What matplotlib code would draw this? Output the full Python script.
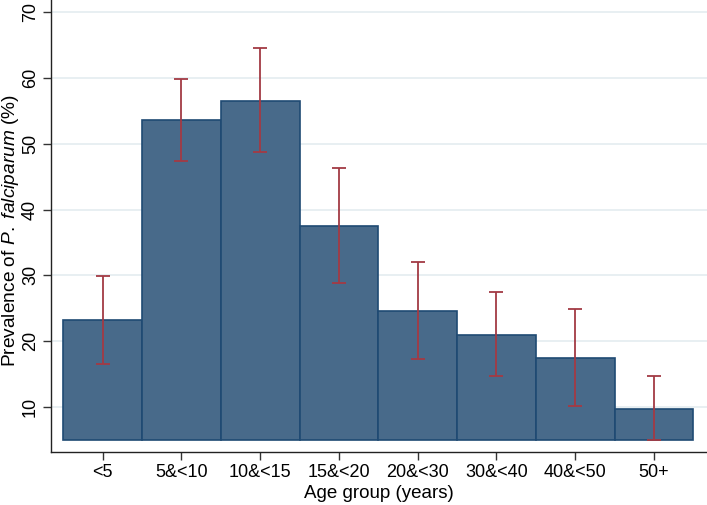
import matplotlib
matplotlib.use("Agg")
import matplotlib.pyplot as plt

plt.rcParams['font.family'] = ['Liberation Sans', 'DejaVu Sans']
plt.rcParams['mathtext.fontset'] = 'custom'
plt.rcParams['mathtext.rm'] = 'Liberation Sans'
plt.rcParams['mathtext.it'] = 'Liberation Sans:italic'

categories = ["<5", "5&<10", "10&<15", "15&<20", "20&<30", "30&<40", "40&<50", "50+"]
prevalence = [23.2, 53.6, 56.6, 37.5, 24.5, 20.9, 17.4, 9.7]
ci_lower = [16.5, 47.4, 48.7, 28.8, 17.2, 14.6, 10.1, 4.9]
ci_upper = [29.9, 59.9, 64.6, 46.4, 32.0, 27.4, 24.8, 14.6]
base = 5
yticks = [10, 20, 30, 40, 50, 60, 70]

fig = plt.figure(figsize=(7.07, 5.05), dpi=100)
ax = fig.add_axes([0.0717, 0.1055, 0.928, 0.8945])

x = list(range(len(categories)))
heights = [p - base for p in prevalence]
ax.bar(x, heights, bottom=base, width=1.0, color='#486a8a', edgecolor='#1f4a73', linewidth=1.2, zorder=2)
yerr = [[p - l for p, l in zip(prevalence, ci_lower)], [u - p for p, u in zip(prevalence, ci_upper)]]
ax.errorbar(x, prevalence, yerr=yerr, fmt='none', ecolor='#a33a44', elinewidth=1.3, capsize=5, capthick=1.3, zorder=3)

ax.set_xlim(-0.66, 7.67)
ax.set_ylim(3.15, 71.9)
ax.set_yticks(yticks)
ax.set_yticklabels([str(t) for t in yticks], rotation=90, va='center', fontsize=13)
ax.set_xticks(x)
ax.set_xticklabels(categories, fontsize=13)
ax.tick_params(axis='both', length=5.5, width=1, color='#333333')
ax.tick_params(axis='y', pad=3)
ax.tick_params(axis='x', pad=3.5)
ax.yaxis.grid(True, color='#e4ecf0', linewidth=1.2, zorder=0)
ax.set_axisbelow(True)
for s in ['top', 'right']:
    ax.spines[s].set_visible(False)
for s in ['left', 'bottom']:
    ax.spines[s].set_color('#222222')
    ax.spines[s].set_linewidth(1.0)

ax.set_ylabel(r"Prevalence of $\it{P.\ falciparum}$ (%)", fontsize=13.8, va='center')
ax.yaxis.set_label_coords(-0.061, 0.49)
ax.set_xlabel("Age group (years)", fontsize=13.5, va='center')
ax.xaxis.set_label_coords(0.5, -0.092)

fig.savefig("out.png", dpi=100)
